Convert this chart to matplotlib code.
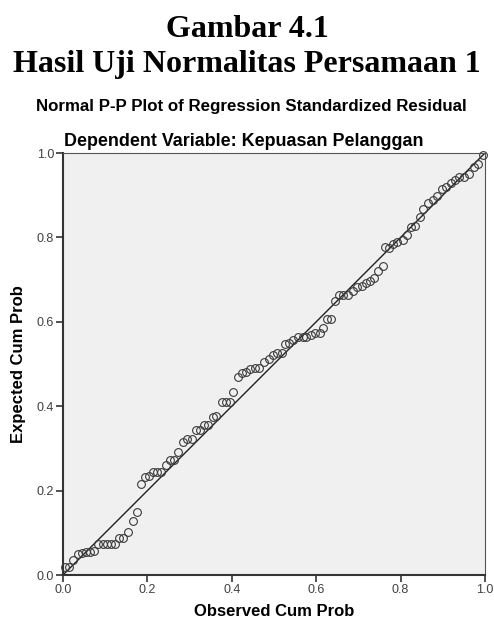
import matplotlib
matplotlib.use("Agg")
import matplotlib.pyplot as plt

# Observed / expected cumulative probabilities
observed_cum_prob = [
    0.005, 0.015, 0.024, 0.035, 0.044, 0.054, 0.064, 0.074, 0.084, 0.094,
    0.104, 0.114, 0.124, 0.133, 0.143, 0.155, 0.165, 0.175, 0.185, 0.194,
    0.204, 0.214, 0.223, 0.233, 0.244, 0.254, 0.263, 0.273, 0.284, 0.293,
    0.305, 0.315, 0.324, 0.334, 0.344, 0.355, 0.363, 0.376, 0.386, 0.395,
    0.404, 0.414, 0.424, 0.434, 0.444, 0.454, 0.464, 0.476, 0.487, 0.498,
    0.508, 0.518, 0.527, 0.536, 0.546, 0.558, 0.568, 0.577, 0.588, 0.598,
    0.608, 0.616, 0.626, 0.634, 0.645, 0.654, 0.664, 0.675, 0.688, 0.697,
    0.708, 0.718, 0.727, 0.737, 0.747, 0.758, 0.763, 0.773, 0.783, 0.792,
    0.805, 0.814, 0.824, 0.834, 0.846, 0.854, 0.866, 0.876, 0.886, 0.897,
    0.908, 0.919, 0.929, 0.939, 0.950, 0.963, 0.974, 0.984, 0.995,
]
expected_cum_prob = [
    0.018, 0.020, 0.036, 0.050, 0.052, 0.054, 0.055, 0.058, 0.073, 0.073,
    0.073, 0.073, 0.073, 0.088, 0.088, 0.101, 0.129, 0.149, 0.216, 0.233,
    0.235, 0.245, 0.245, 0.245, 0.261, 0.272, 0.272, 0.292, 0.314, 0.322,
    0.322, 0.344, 0.344, 0.355, 0.355, 0.374, 0.376, 0.410, 0.410, 0.410,
    0.434, 0.470, 0.478, 0.480, 0.488, 0.490, 0.490, 0.505, 0.513, 0.521,
    0.527, 0.527, 0.548, 0.550, 0.557, 0.565, 0.565, 0.565, 0.569, 0.573,
    0.574, 0.585, 0.606, 0.606, 0.650, 0.663, 0.663, 0.663, 0.674, 0.682,
    0.685, 0.691, 0.697, 0.703, 0.721, 0.732, 0.778, 0.776, 0.784, 0.790,
    0.794, 0.806, 0.824, 0.827, 0.848, 0.867, 0.881, 0.889, 0.898, 0.914,
    0.919, 0.930, 0.936, 0.944, 0.942, 0.950, 0.968, 0.974, 0.995,
]
ticks = [0.0, 0.2, 0.4, 0.6, 0.8, 1.0]
tick_labels = ["0.0", "0.2", "0.4", "0.6", "0.8", "1.0"]

W, H = 494, 623
fig = plt.figure(figsize=(W / 100, H / 100), dpi=100)
fig.patch.set_facecolor("white")

# judul gambar (Times)
fig.text(0.5, 1 - 37 / H, "Gambar 4.1", ha="center", va="baseline",
         family="Liberation Serif", fontweight="bold", fontsize=23)
fig.text(0.5, 1 - 72 / H, "Hasil Uji Normalitas Persamaan 1", ha="center",
         va="baseline", family="Liberation Serif", fontweight="bold", fontsize=23)
fig.text(251 / W, 1 - 110.5 / H, "Normal P-P Plot of Regression Standardized Residual",
         ha="center", va="baseline", family="Liberation Sans", fontweight="bold",
         fontsize=12.2)
fig.text(243.5 / W, 1 - 146.5 / H, "Dependent Variable: Kepuasan Pelanggan",
         ha="center", va="baseline", family="Liberation Sans", fontweight="bold",
         fontsize=12.9)

ax = fig.add_axes([63 / W, 48 / H, 422 / W, 422 / H])
ax.set_facecolor("#f0f0f0")

ax.plot([0, 1], [0, 1], color="#202020", linewidth=1.0, zorder=2)
ax.plot(observed_cum_prob, expected_cum_prob, linestyle="none", marker="o",
        markersize=5.6, markerfacecolor="none", markeredgecolor="#3a3a3a",
        markeredgewidth=0.8, zorder=3, clip_on=False)

ax.set_xlim(0, 1)
ax.set_ylim(0, 1)
ax.set_xticks(ticks)
ax.set_xticklabels(tick_labels)
ax.set_yticks(ticks)
ax.set_yticklabels(tick_labels)
ax.tick_params(axis="both", direction="out", length=5, width=1.2, color="#333333",
               labelsize=9, labelcolor="#404040", pad=1.5)
for lbl in ax.get_xticklabels() + ax.get_yticklabels():
    lbl.set_family("Liberation Sans")

ax.spines["left"].set_linewidth(1.5)
ax.spines["bottom"].set_linewidth(1.5)
ax.spines["left"].set_color("#333333")
ax.spines["bottom"].set_color("#333333")
ax.spines["top"].set_linewidth(0.8)
ax.spines["right"].set_linewidth(0.8)
ax.spines["top"].set_color("#555555")
ax.spines["right"].set_color("#555555")

fig.text(274 / W, 1 - 612 / H, "Observed Cum Prob", ha="center", va="center",
         family="Liberation Sans", fontweight="bold", fontsize=12)
fig.text(19 / W, 1 - 364 / H, "Expected Cum Prob", ha="center", va="center",
         rotation=90, family="Liberation Sans", fontweight="bold", fontsize=12)

fig.savefig("out.png", dpi=100)
